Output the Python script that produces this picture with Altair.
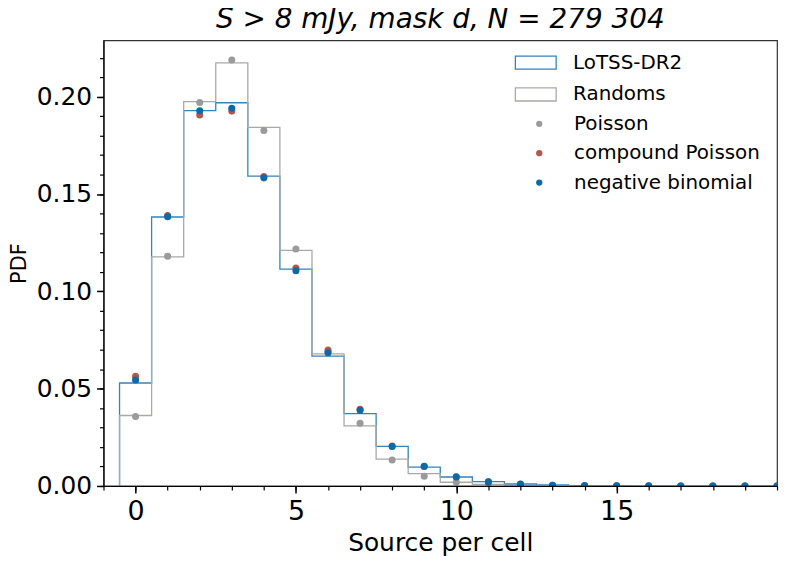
import altair as alt
import pandas as pd

# ---- data ----
bins = list(range(0, 21))
lotss = [0.0529, 0.1382, 0.1928, 0.1969, 0.1592, 0.1114, 0.0667, 0.0372, 0.0203, 0.0097,
         0.0046, 0.0022, 0.0010, 0.0005, 0.0002, 0.0001, 0.00005, 0.00002, 0.00001, 0.0, 0.0]
randoms = [0.0362, 0.1177, 0.1975, 0.2174, 0.1842, 0.1210, 0.0679, 0.0309, 0.0138, 0.0063,
           0.0019, 0.0008, 0.0002, 0.0001, 0.0, 0.0, 0.0, 0.0, 0.0, 0.0, 0.0]
poisson = [0.0357, 0.1180, 0.1970, 0.2189, 0.1826, 0.1218, 0.0690, 0.0322, 0.0133, 0.0050,
           0.0019, 0.0006, 0.0002, 0.00005, 0.0, 0.0, 0.0, 0.0, 0.0, 0.0, 0.0]
compound = [0.0563, 0.1390, 0.1906, 0.1926, 0.1590, 0.1120, 0.0698, 0.0394, 0.0205, 0.0100,
            0.0047, 0.0021, 0.0009, 0.0004, 0.00015, 0.00005, 0.00002, 0.0, 0.0, 0.0, 0.0]
negbin = [0.0544, 0.1383, 0.1928, 0.1941, 0.1583, 0.1106, 0.0684, 0.0389, 0.0203, 0.0101,
          0.0046, 0.0022, 0.0010, 0.0004, 0.0002, 0.0001, 0.00004, 0.00002, 0.00001, 0.0, 0.0]

hist_names = ["LoTSS-DR2", "Randoms"]
hist_colors = ["#3583bd", "#a9aaa5"]
model_names = ["Poisson", "compound Poisson", "negative binomial"]
model_colors = ["#9b9b9b", "#b5574b", "#0d6aa8"]

x_major = [0, 5, 10, 15]
x_minor = list(range(-1, 21))
y_major = [0.0, 0.05, 0.10, 0.15, 0.20]
y_minor = [0.00, 0.01, 0.02, 0.03, 0.04, 0.05, 0.06, 0.07, 0.08, 0.09, 0.10, 0.11,
           0.12, 0.13, 0.14, 0.15, 0.16, 0.17, 0.18, 0.19, 0.20, 0.21, 0.22]

title_text = "S > 8 mJy, mask d, N = 279 304"


def step_frame(name, values):
    edges = [bins[0] - 0.5] + [b + 0.5 for b in bins]
    heights = [0.0] + list(values)
    return pd.DataFrame({"edge": edges, "pdf": heights, "series": name})


df_lotss = step_frame(hist_names[0], lotss)
df_rand = step_frame(hist_names[1], randoms)

pts = []
for name, vals in zip(model_names, [poisson, compound, negbin]):
    for b, v in zip(bins, vals):
        pts.append({"n": b, "pdf": v, "model": name})
df_pts = pd.DataFrame(pts)

xscale = alt.Scale(domain=[-1, 20], nice=False, zero=False)
yscale = alt.Scale(domain=[0, 0.229], nice=False, zero=False)

FONT = "DejaVu Sans"

x_axis_major = alt.Axis(values=x_major, orient="bottom", tickSize=7, tickWidth=1.5,
                        tickColor="black", labelFontSize=27, labelFont=FONT,
                        labelColor="black", labelPadding=6, labelFlush=False,
                        domainColor="black", domainWidth=1.2, grid=False,
                        title="Source per cell", titleFont=FONT, titleFontSize=25,
                        titleFontWeight="normal", titleColor="black", titlePadding=6,
                        zindex=1)
y_axis_major = alt.Axis(values=y_major, orient="left", format=".2f", tickSize=7,
                        tickWidth=1.5, tickColor="black", labelFontSize=25,
                        labelFont=FONT, labelColor="black", labelPadding=5,
                        labelFlush=False, domainColor="black", domainWidth=1.2,
                        grid=False, title="PDF", titleFont=FONT, titleFontSize=21,
                        titleFontWeight="normal", titleColor="black", titlePadding=7,
                        zindex=1)
x_axis_minor = alt.Axis(values=x_minor, orient="bottom", tickSize=4, tickWidth=1.2,
                        tickColor="black", labels=False, domain=False, grid=False,
                        title="", zindex=1)
y_axis_minor = alt.Axis(values=y_minor, orient="left", tickSize=4, tickWidth=1.2,
                        tickColor="black", labels=False, domain=False, grid=False,
                        title="", zindex=1)

hist_legend = alt.Legend(title=None, orient="none", legendX=413, legendY=1,
                         symbolType="M-1,-0.32L1,-0.32L1,0.32L-1,0.32Z",
                         symbolSize=1681, symbolStrokeWidth=1.3,
                         symbolFillColor="white", labelFont=FONT, labelFontSize=20,
                         labelColor="black", labelOffset=16, rowPadding=-18,
                         padding=0, labelLimit=400)
pts_legend = alt.Legend(title=None, orient="none", legendX=428, legendY=74,
                        symbolType="circle", symbolSize=40, symbolStrokeWidth=0,
                        symbolOpacity=1, labelFont=FONT, labelFontSize=20,
                        labelColor="black", labelOffset=25, rowPadding=9.5,
                        padding=0, labelLimit=400)

stroke_enc = alt.Stroke("series:N",
                        scale=alt.Scale(domain=hist_names, range=hist_colors),
                        legend=hist_legend)

h1 = alt.Chart(df_lotss).mark_line(interpolate="step-before", clip=True,
                                   strokeWidth=1.3).encode(
    x=alt.X("edge:Q", scale=xscale, axis=x_axis_major),
    y=alt.Y("pdf:Q", scale=yscale, axis=y_axis_major),
    stroke=stroke_enc,
)
h2 = alt.Chart(df_rand).mark_line(interpolate="step-before", clip=True,
                                  strokeWidth=1.3).encode(
    x=alt.X("edge:Q", scale=xscale, axis=None),
    y=alt.Y("pdf:Q", scale=yscale, axis=None),
    stroke=stroke_enc,
)
p = alt.Chart(df_pts).mark_circle(size=50, opacity=1, clip=True).encode(
    x=alt.X("n:Q", scale=xscale, axis=x_axis_minor),
    y=alt.Y("pdf:Q", scale=yscale, axis=y_axis_minor),
    fill=alt.Fill("model:N", scale=alt.Scale(domain=model_names, range=model_colors),
                  legend=pts_legend),
)

chart = alt.layer(h1, h2, p).resolve_axis(x="independent", y="independent").properties(
    width=677, height=448,
    autosize=alt.AutoSizeParams(type="none"),
    padding={"left": 96, "top": 31, "right": 4, "bottom": 76},
    title=alt.Title(title_text, font=FONT, fontSize=28, fontStyle="italic",
                    fontWeight="normal", color="black", anchor="middle",
                    dy=25, baseline="bottom", offset=3),
).configure_view(stroke="#333333", strokeWidth=1.2)

chart.save("out.html", embed_options={"renderer": "svg", "actions": False})
